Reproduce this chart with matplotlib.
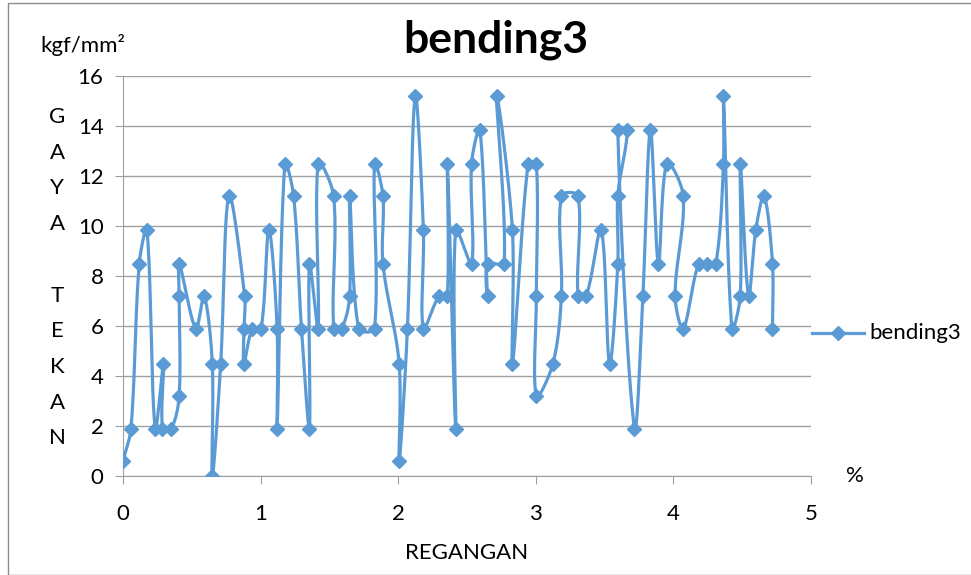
import numpy as np
import matplotlib
matplotlib.use("Agg")
import matplotlib.pyplot as plt
from matplotlib.patches import Rectangle
from matplotlib.lines import Line2D

plt.rcParams['font.family'] = ['Lato', 'DejaVu Sans']

# strain (%) and stress (kgf/mm2), in the order the series is drawn
regangan = [0.00, 0.058, 0.118, 0.174, 0.234, 0.294, 0.287, 0.352, 0.408, 0.408,
            0.408, 0.529, 0.589, 0.649, 0.649, 0.71, 0.77, 0.884, 0.879, 0.879,
            0.94, 1.004, 1.06, 1.12, 1.12, 1.176, 1.24, 1.297, 1.355, 1.355,
            1.418, 1.418, 1.531, 1.531, 1.59, 1.647, 1.647, 1.712, 1.828, 1.828,
            1.889, 1.889, 2.007, 2.007, 2.067, 2.123, 2.183, 2.183, 2.297, 2.357,
            2.357, 2.418, 2.418, 2.533, 2.533, 2.594, 2.649, 2.649, 2.77, 2.715,
            2.83, 2.83, 2.944, 3.004, 3.004, 3.004, 3.125, 3.186, 3.186, 3.307,
            3.307, 3.367, 3.475, 3.536, 3.596, 3.596, 3.664, 3.596, 3.717, 3.778,
            3.833, 3.891, 3.952, 4.072, 4.012, 4.072, 4.183, 4.243, 4.309, 4.364,
            4.364, 4.425, 4.486, 4.486, 4.546, 4.599, 4.659, 4.72, 4.72]
gaya = [0.6, 1.9, 8.5, 9.85, 1.9, 4.5, 1.9, 1.9, 3.2, 7.2,
        8.5, 5.9, 7.2, 4.5, 0.0, 4.5, 11.2, 7.2, 5.9, 4.5,
        5.9, 5.9, 9.85, 5.9, 1.9, 12.5, 11.2, 5.9, 1.9, 8.5,
        5.9, 12.5, 11.2, 5.9, 5.9, 7.2, 11.2, 5.9, 5.9, 12.5,
        11.2, 8.5, 4.5, 0.6, 5.9, 15.2, 9.85, 5.9, 7.2, 7.2,
        12.5, 1.9, 9.85, 8.5, 12.5, 13.85, 7.2, 8.5, 8.5, 15.2,
        9.85, 4.5, 12.5, 12.5, 7.2, 3.2, 4.5, 7.2, 11.2, 11.2,
        7.2, 7.2, 9.85, 4.5, 8.5, 11.2, 13.85, 13.85, 1.9, 7.2,
        13.85, 8.5, 12.5, 11.2, 7.2, 5.9, 8.5, 8.5, 8.5, 12.5,
        15.2, 5.9, 7.2, 12.5, 7.2, 9.85, 11.2, 8.5, 5.9]

ylabel_letters = "GAYA TEKAN"
series_name = 'bending3'
blue = '#5B9BD5'
grid_c = '#A0A0A0'
fs = 16
lw = 2.3
ms = 7


def smooth(x, y, sx=138.0, sy=25.0, n=24):
    # smoothed line: bezier segments, tangents weighted by segment length
    # (worked out in screen units so steep jumps don't overshoot much)
    P = np.column_stack([np.asarray(x, float) * sx, np.asarray(y, float) * sy])
    P = np.vstack([P[0], P, P[-1]])
    t = np.linspace(0, 1, n, endpoint=False)[:, None]
    out = []
    for i in range(1, len(P) - 2):
        p0, p1, p2, p3 = P[i-1], P[i], P[i+1], P[i+2]
        d01 = np.hypot(*(p1 - p0))
        d12 = np.hypot(*(p2 - p1))
        d23 = np.hypot(*(p3 - p2))
        w1 = d12 / (d01 + d12) if d01 + d12 > 0 else 0
        w2 = d12 / (d12 + d23) if d12 + d23 > 0 else 0
        c1 = p1 + (p2 - p0) * w1 / 3
        c2 = p2 - (p3 - p1) * w2 / 3
        seg = ((1 - t) ** 3) * p1 + 3 * ((1 - t) ** 2) * t * c1 \
            + 3 * (1 - t) * t ** 2 * c2 + t ** 3 * p2
        out.append(seg)
    out.append(P[-1][None, :])
    out = np.vstack(out)
    return out[:, 0] / sx, out[:, 1] / sy


fig = plt.figure(figsize=(9.71, 5.75), dpi=100)
ax = fig.add_axes([123/971, 1 - 476/575, (811 - 123)/971, (476 - 76)/575])

lx, ly = smooth(regangan, gaya)
ax.plot(lx, ly, color=blue, lw=lw, solid_joinstyle='round', zorder=3)
ax.plot(regangan, gaya, ls='none', marker='D', ms=ms, color=blue, zorder=4)

ax.set_xlim(0, 5)
ax.set_ylim(0, 16)
ax.set_xticks(range(0, 6))
ax.set_yticks(range(0, 17, 2))
ax.yaxis.grid(True, color=grid_c, lw=1)
ax.set_axisbelow(True)
for s in ['top', 'right']:
    ax.spines[s].set_visible(False)
for s in ['left', 'bottom']:
    ax.spines[s].set_color(grid_c)
ax.tick_params(axis='both', colors=grid_c, labelcolor='black', labelsize=fs,
               length=6, direction='out')
ax.tick_params(axis='x', pad=14)
ax.tick_params(axis='y', pad=8)

fig.text(496/971, 1 - 40/575, 'bending3', ha='center', va='center',
         fontsize=32, fontweight='bold')
fig.text(40/971, 1 - 45/575, 'kgf/mm²', ha='left', va='center', fontsize=fs)
for i, ch in enumerate(ylabel_letters):
    fig.text(57/971, 1 - (117 + i * 35.7)/575, ch, ha='center', va='center',
             fontsize=fs)
fig.text(855/971, 1 - 476/575, '%', ha='center', va='center', fontsize=fs)
fig.text(467/971, 1 - 553/575, 'REGANGAN', ha='center', va='center', fontsize=fs)

# legend entry, drawn by hand so it sits where the reference has it
leg_y = 1 - 333/575
fig.add_artist(Line2D([812/971, 864/971], [leg_y, leg_y], color=blue, lw=lw,
                      transform=fig.transFigure))
fig.add_artist(Line2D([838/971], [leg_y], color=blue, marker='D', ms=ms,
                      ls='none', transform=fig.transFigure))
fig.text(869/971, leg_y, series_name, ha='left', va='center', fontsize=fs)

fig.patches.append(Rectangle((8/971, 0), 1, 1 - 3/575, transform=fig.transFigure,
                             fill=False, edgecolor='#8C8C8C', lw=1))

fig.savefig('out.png', dpi=100)
